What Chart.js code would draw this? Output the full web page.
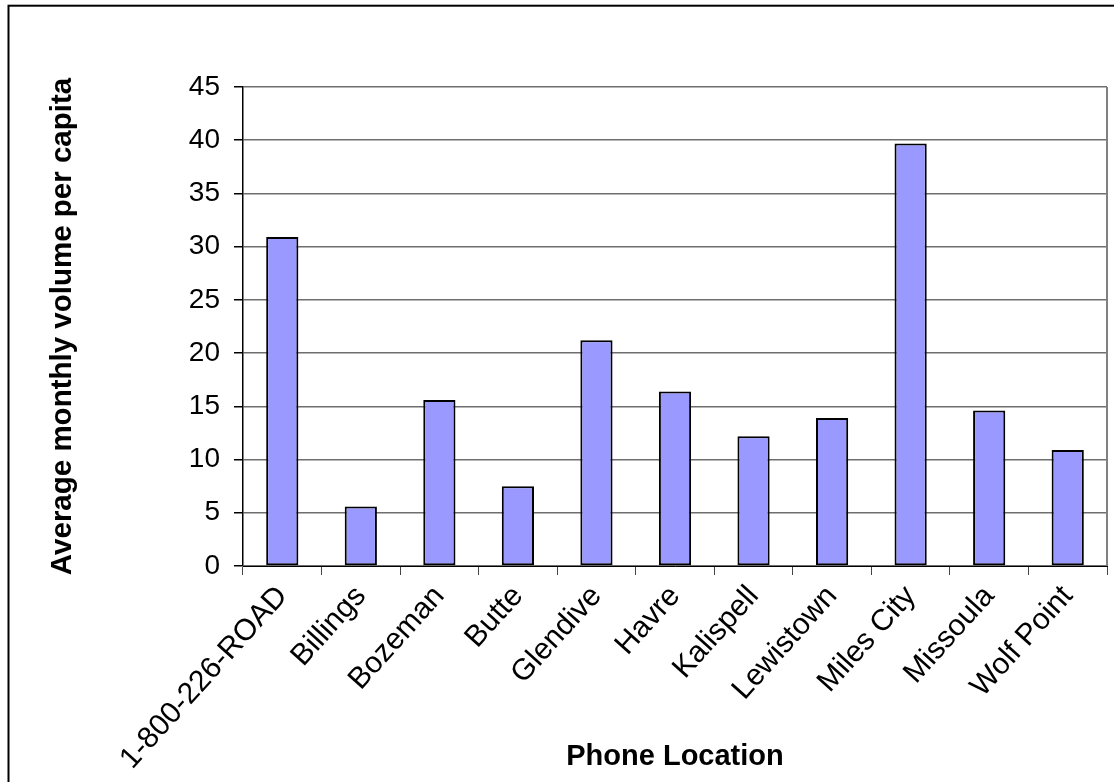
<!DOCTYPE html>
<html>
<head>
<meta charset="utf-8">
<script src="https://cdn.jsdelivr.net/npm/chart.js@4"></script>
<style>
  html, body { margin: 0; padding: 0; background: #fff; }
  #wrap { width: 1114px; height: 782px; }
</style>
</head>
<body>
<div id="wrap"><canvas id="myChart" width="1114" height="782"></canvas></div>
<script>
  // Data
  const locations = ['1-800-226-ROAD', 'Billings', 'Bozeman', 'Butte', 'Glendive', 'Havre',
    'Kalispell', 'Lewistown', 'Miles City', 'Missoula', 'Wolf Point']
  const volumePerCapita = [30.9, 5.6, 15.6, 7.5, 21.2, 16.4, 12.2, 13.9, 39.7, 14.6, 10.9]
  const yMin = 0
  const yMax = 45
  const yStep = 5

  const FONT = "'Liberation Sans', Arial, sans-serif"

  // outer frame + grey right edge of the plot area, like the Excel original
  const framePlugin = {
    id: 'frame',
    beforeDraw (chart) {
      const c = chart.ctx
      c.save()
      c.fillStyle = '#fff'
      c.fillRect(0, 0, chart.width, chart.height)
      c.strokeStyle = '#000'
      c.lineWidth = 2
      c.strokeRect(8.5, 5.7, 1200, 900)
      c.restore()
    },
    afterDatasetsDraw (chart) {
      const a = chart.chartArea
      const c = chart.ctx
      c.save()
      c.strokeStyle = '#808080'
      c.lineWidth = 2
      c.beginPath()
      c.moveTo(a.right, a.top)
      c.lineTo(a.right, a.bottom)
      c.stroke()
      c.restore()
    }
  }

  const ctx = document.getElementById('myChart')
  // eslint-disable-next-line no-unused-vars
  const myChart = new Chart(ctx, {
    type: 'bar',
    data: {
      labels: locations,
      datasets: [{
        data: volumePerCapita,
        backgroundColor: '#9999ff',
        borderColor: '#000',
        borderWidth: 2,
        borderSkipped: false,
        barPercentage: 0.41,
        categoryPercentage: 1
      }]
    },
    options: {
      responsive: false,
      animation: false,
      layout: {
        padding: { top: 87, right: 7, bottom: 0, left: 0 }
      },
      plugins: {
        legend: { display: false },
        tooltip: { enabled: false }
      },
      scales: {
        x: {
          grid: {
            offset: true,
            drawOnChartArea: false,
            tickLength: 9,
            tickColor: '#444',
            tickWidth: 1
          },
          border: { color: '#000', width: 1 },
          ticks: {
            minRotation: 48,
            maxRotation: 48,
            padding: 4,
            color: '#000',
            font: { family: FONT, size: 30 }
          },
          title: {
            display: true,
            text: 'Phone Location',
            color: '#000',
            padding: { top: 0, bottom: 8 },
            font: { family: FONT, size: 29, weight: 'bold' }
          },
          afterFit (scale) { scale.height = 216 }
        },
        y: {
          min: yMin,
          max: yMax,
          ticks: {
            stepSize: yStep,
            padding: 14,
            color: '#000',
            font: { family: FONT, size: 28 }
          },
          grid: {
            color: '#6e6e6e',
            lineWidth: 1.5,
            tickLength: 9,
            tickColor: '#000'
          },
          border: { color: '#000', width: 1.5 },
          title: {
            display: true,
            text: 'Average monthly volume per capita',
            color: '#000',
            padding: { top: 45, bottom: 0 },
            font: { family: FONT, size: 29.5, weight: 'bold' }
          },
          afterFit (scale) { scale.width = 243 }
        }
      }
    },
    plugins: [framePlugin]
  })
</script>
</body>
</html>
